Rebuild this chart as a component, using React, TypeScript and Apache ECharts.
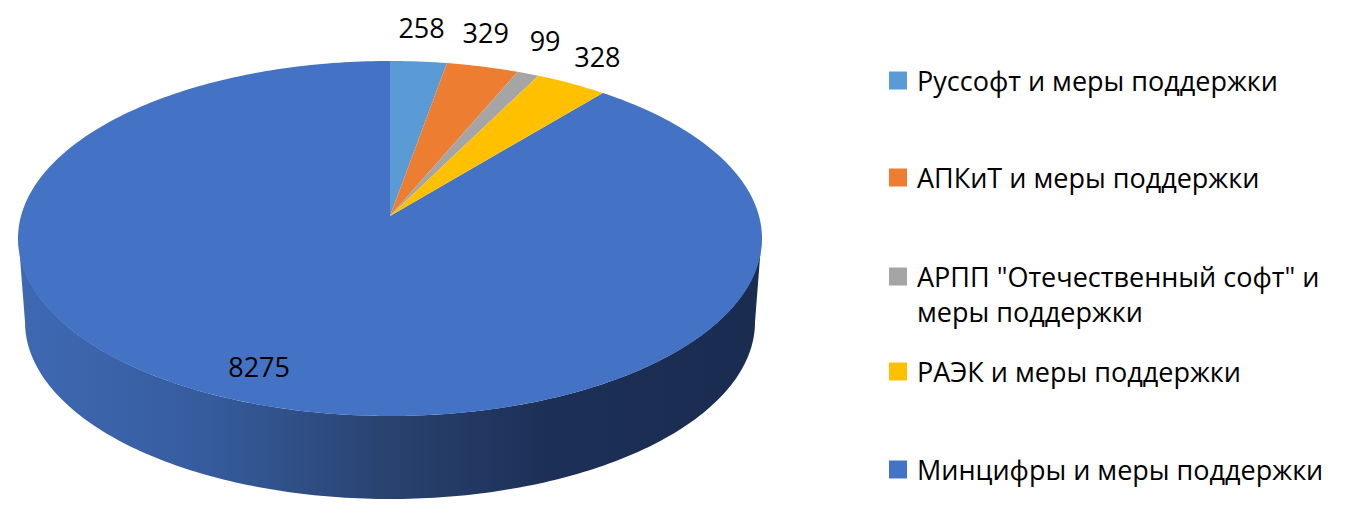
import React, { useEffect, useRef } from "react";
import * as echarts from "echarts";

const legendNames = [
  "Руссофт и меры поддержки",
  "АПКиТ и меры поддержки",
  'АРПП "Отечественный софт" и меры поддержки',
  "РАЭК и меры поддержки",
  "Минцифры и меры поддержки",
];
const values = [258, 329, 99, 328, 8275];
const colors = ["#5B9BD5", "#ED7D31", "#A5A5A5", "#FFC000", "#4472C4"];
const labelOffsets = [[3, -34], [3, -34], [17, -33], [26, -27], [10, -36]];
const legendCenters = [83, 180, 279, 374, 472];

const FONT = '"Open Sans", "Noto Sans", sans-serif';
const W = 1349;
const H = 510;
const APEX = { x: 390, y: 216 };
const K = 0.1268;
const A = 174.65;
const B = 369;
const total = values.reduce((a, b) => a + b, 0);

function project(frac: number) {
  const t = frac * Math.PI * 2;
  const u = Math.sin(t);
  const v = Math.cos(t);
  const d = 1 + K * v;
  return [APEX.x + (B * u) / d, APEX.y - (A * v) / d];
}

function wallPoints() {
  const pts: number[][] = [];
  for (let i = 0; i <= 180; i++) {
    const a = (i / 180) * Math.PI;
    pts.push([390 + 371.5 * Math.cos(a), 238.5 + 177.5 * Math.sin(a)]);
  }
  for (let i = 180; i >= 0; i--) {
    const a = (i / 180) * Math.PI;
    pts.push([390 + 365 * Math.cos(a), 322 + 177 * Math.sin(a)]);
  }
  return pts;
}

function makeSeries(index: number) {
  const start = values.slice(0, index).reduce((a, b) => a + b, 0) / total;
  const end = start + values[index] / total;
  const mid = (start + end) / 2;
  return {
    type: "custom",
    name: legendNames[index],
    coordinateSystem: "none",
    itemStyle: { color: colors[index] },
    data: [values[index]],
    silent: true,
    renderItem: () => {
      const n = Math.max(4, Math.ceil((end - start) * 360));
      const pts: number[][] = [[APEX.x, APEX.y]];
      for (let i = 0; i <= n; i++) pts.push(project(start + ((end - start) * i) / n));
      const m = project(mid);
      const children: any[] = [];
      if (index === values.length - 1) {
        children.push({
          type: "polygon",
          shape: { points: wallPoints() },
          style: {
            fill: new echarts.graphic.LinearGradient(
              18, 0, 761, 0,
              [
                { offset: 0, color: "#3E69B3" },
                { offset: 0.25, color: "#365C9E" },
                { offset: 0.5, color: "#29426F" },
                { offset: 0.72, color: "#1C2F56" },
                { offset: 1, color: "#1A2C50" },
              ],
              true
            ),
          },
        });
      }
      children.push({
        type: "polygon",
        z2: 2,
        shape: { points: pts },
        style: { fill: colors[index] },
      });
      children.push({
        type: "text",
        z2: 5,
        style: {
          x: m[0] + labelOffsets[index][0],
          y: m[1] + labelOffsets[index][1],
          text: String(values[index]),
          fill: "#000",
          font: `27px ${FONT}`,
          align: "center",
          verticalAlign: "middle",
        },
      });
      return { type: "group", children };
    },
  };
}

export default function App() {
  const ref = useRef<HTMLDivElement>(null);
  useEffect(() => {
    const chart = echarts.init(ref.current!, undefined, { renderer: "svg", width: W, height: H });
    // Order: small slices on top of the big one's wall.
    const series = [4, 0, 1, 2, 3].map(makeSeries);
    chart.setOption({
      animation: false,
      backgroundColor: "#fff",
      legend: legendNames.map((name, i) => ({
        data: [name],
        left: 889,
        top: legendCenters[i] - 16,
        padding: 0,
        orient: "vertical",
        selectedMode: false,
        icon: "rect",
        itemWidth: 18,
        itemHeight: 18,
        formatter: (s: string) => (i === 2 ? 'АРПП "Отечественный софт" и' : s),
        textStyle: { fontFamily: FONT, fontSize: 27, color: "#000", padding: [0, 0, 0, 5] },
      })),
      graphic: [
        {
          type: "text",
          left: 917,
          top: 298,
          style: { text: "меры поддержки", fill: "#000", font: `27px ${FONT}` },
        },
      ],
      series,
    });
    return () => chart.dispose();
  }, []);
  return <div ref={ref} style={{ position: "absolute", left: 0, top: 0, width: W, height: H }} />;
}
